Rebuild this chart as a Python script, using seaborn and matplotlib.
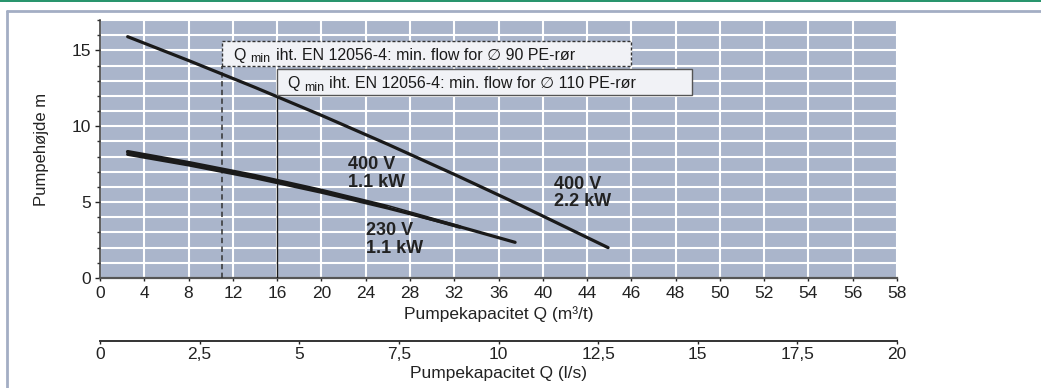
"""
Pumpekurve - Pumpehøjde vs. pumpekapacitet
"""

import matplotlib.pyplot as plt
import seaborn as sns
from matplotlib.lines import Line2D
from matplotlib.patches import Rectangle
from matplotlib.ticker import MultipleLocator

# ── DATA ──
q_400v_22 = [2.5, 8, 14, 20, 26, 32, 38, 45.9]
h_400v_22 = [15.9, 14.33, 12.56, 10.72, 8.81, 6.83, 4.79, 2.0]
q_400v_11 = [2.5, 8, 14, 20, 26, 32, 37.5]
h_400v_11 = [8.15, 7.45, 6.60, 5.65, 4.61, 3.48, 2.35]
q_230v_11 = [2.5, 8, 14, 20, 26, 32.5]
h_230v_11 = [8.32, 7.6, 6.74, 5.77, 4.7, 3.36]

q_min_90 = 11
q_min_110 = 16

x_ticks = list(range(0, 73, 4))
x_ticklabels = ["0", "4", "8", "12", "16", "20", "24", "28", "32", "36", "40",
                "44", "46", "48", "50", "52", "54", "56", "58"]
ls_ticks = [0, 2.5, 5, 7.5, 10, 12.5, 15, 17.5, 20]
ls_ticklabels = ["0", "2,5", "5", "7,5", "10", "12,5", "15", "17,5", "20"]

# ── STIL ──
BG_PLOT = "#aab5cb"
BOX = "#f1f2f6"
FRAME = "#a3aec4"
GREEN = "#138a5e"
INK = "#1a1a1a"
TXT = "#222222"

sns.set_theme(style="ticks")
FONT = ["Liberation Sans", "DejaVu Sans"]
plt.rcParams["font.family"] = FONT

fig = plt.figure(figsize=(10.41, 3.88), dpi=100, facecolor="white")
ax = fig.add_axes([100 / 1041, 1 - 278 / 388, 797 / 1041, 258 / 388])
ax.set_facecolor(BG_PLOT)

# kurver
sns.lineplot(x=q_230v_11, y=h_230v_11, ax=ax, color=INK, lw=2.6, zorder=4)
sns.lineplot(x=q_230v_11[-2:], y=h_230v_11[-2:], ax=ax, color=BG_PLOT, lw=0.5, zorder=4)
sns.lineplot(x=q_400v_11, y=h_400v_11, ax=ax, color=INK, lw=2.3, zorder=5)
sns.lineplot(x=q_400v_22, y=h_400v_22, ax=ax, color=INK, lw=2.3, zorder=5)

# Q min linjer og bokse
ax.vlines(q_min_90, 0, 14.0, color="#333333", lw=1.1, linestyles=(0, (3.5, 2.2)), zorder=3)
ax.vlines(q_min_110, 0, 12.03, color=INK, lw=1.0, zorder=3)
ax.add_patch(Rectangle((q_min_90, 14.0), 36.96, 1.63, facecolor=BOX, edgecolor="#333333",
                       lw=1.0, linestyle=(0, (2.2, 1.4)), zorder=6))
ax.add_patch(Rectangle((q_min_110, 12.03), 37.46, 1.72, facecolor=BOX, edgecolor="#555555",
                       lw=1.0, zorder=7))


def qmin_text(x0, y0, rest, z):
    t1 = ax.text(x0, y0, "Q", fontsize=11.5, color=INK, va="baseline", ha="left", zorder=z)
    t2 = ax.annotate("min", xy=(1, y0), xycoords=(t1, "data"), xytext=(3.5, -2),
                     textcoords="offset points", fontsize=9, color=INK,
                     va="baseline", ha="left", zorder=z)
    ax.annotate(rest, xy=(1, y0), xycoords=(t2, "data"), xytext=(3.5, 0),
                textcoords="offset points", fontsize=11.5, color=INK,
                va="baseline", ha="left", zorder=z, family=FONT)


qmin_text(q_min_90 + 1.05, 14.39, "iht. EN 12056-4: min. flow for \u2205 90 PE-rør", 8)
qmin_text(q_min_110 + 0.9, 12.52, "iht. EN 12056-4: min. flow for \u2205 110 PE-rør", 9)

# kurve-etiketter
for x, y, s in [(22.4, 6.87, "400 V\n1.1 kW"), (24.0, 2.54, "230 V\n1.1 kW"),
                (41.0, 5.6, "400 V\n2.2 kW")]:
    ax.text(x, y, s, fontsize=13, fontweight="bold", color=TXT,
            ha="left", va="center", linespacing=1.05, zorder=6)

# akser
ax.set_xlim(0, 72)
ax.set_ylim(0, 17)
ax.set_xticks(x_ticks)
ax.set_xticklabels(x_ticklabels)
ax.set_yticks([0, 5, 10, 15])
ax.yaxis.set_minor_locator(MultipleLocator(1))
ax.set_axisbelow(True)
ax.grid(which="major", axis="x", color="white", lw=1.5)
ax.grid(which="both", axis="y", color="white", lw=1.5)
for s in ["top", "right"]:
    ax.spines[s].set_visible(False)
ax.spines["left"].set_color("#333333")
ax.spines["left"].set_linewidth(1.1)
ax.spines["bottom"].set_color("#555555")
ax.spines["bottom"].set_linewidth(1.6)
ax.tick_params(axis="both", which="major", labelsize=12.5, colors=TXT,
               length=3.5, width=1, pad=3)
ax.tick_params(axis="y", which="minor", length=2.2, width=1, color="#333333")
ax.tick_params(axis="x", length=2.5)

ax.set_xlabel("Pumpekapacitet Q (m³/t)", fontsize=12.5, color=TXT)
ax.xaxis.set_label_coords(0.5, -0.11)
ax.set_ylabel("Pumpehøjde m", fontsize=12, color=TXT)
ax.yaxis.set_label_coords(-0.064, 0.5)

# sekundær akse l/s
ax2 = ax.secondary_xaxis(-0.245, functions=(lambda q: q / 3.6, lambda l: l * 3.6))
ax2.set_xticks(ls_ticks)
ax2.set_xticklabels(ls_ticklabels)
ax2.spines["bottom"].set_color("#333333")
ax2.spines["bottom"].set_linewidth(1.4)
ax2.tick_params(axis="x", labelsize=12.5, colors=TXT, length=2.5, width=1, pad=2)
ax2.set_xlabel("Pumpekapacitet Q (l/s)", fontsize=12.5, color=TXT, labelpad=2.5)

# ramme
fig.add_artist(Line2D([7 / 1041, 7 / 1041], [1 - 10.5 / 388, 0], transform=fig.transFigure,
                      color=FRAME, lw=2))
fig.add_artist(Line2D([7 / 1041, 1], [1 - 10.5 / 388, 1 - 10.5 / 388], transform=fig.transFigure,
                      color=FRAME, lw=2))
fig.add_artist(Line2D([0, 1], [1 - 0.7 / 388, 1 - 0.7 / 388], transform=fig.transFigure,
                      color=GREEN, lw=1.3))

plt.savefig("out.png", dpi=100, facecolor="white")
